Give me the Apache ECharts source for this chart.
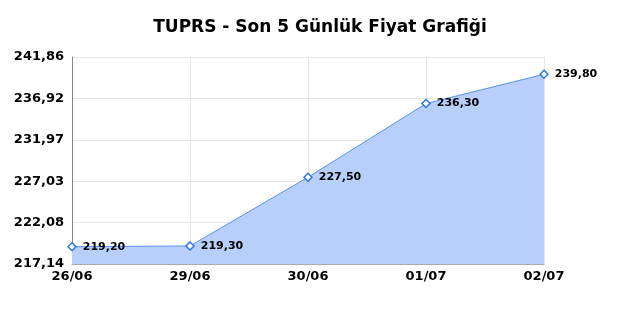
<!DOCTYPE html>
<html>
<head>
    <meta charset="utf-8">
    <title>TUPRS</title>
    <script src="https://cdn.jsdelivr.net/npm/echarts@6/dist/echarts.min.js"></script>
    <style type="text/css">
        html, body { margin: 0; padding: 0; background: #fff; }
        #chart { width: 640px; height: 320px; }
    </style>
</head>
<body>
    <div id="chart"></div>
    <script>
        var days = ['26/06', '29/06', '30/06', '01/07', '02/07'];
        var prices = [219.20, 219.30, 227.50, 236.30, 239.80];
        var yTicks = ['217,14', '222,08', '227,03', '231,97', '236,92', '241,86'];
        var yBase = 217.14;
        var yStep = 4.944;

        function fmt(v) {
            return v.toFixed(2).replace('.', ',');
        }

        // values shifted so the axis starts at 0 and ticks fall on multiples of the step
        var shifted = [];
        for (var i = 0; i < prices.length; i++) {
            shifted.push({ value: +(prices[i] - yBase).toFixed(4), raw: prices[i] });
        }

        var chart = echarts.init(document.getElementById('chart'));
        chart.setOption({
            animation: false,
            textStyle: { fontFamily: 'DejaVu Sans' },
            title: {
                text: 'TUPRS - Son 5 Günlük Fiyat Grafiği',
                left: 'center',
                top: 14,
                textStyle: { fontSize: 17, fontWeight: 'bold', color: '#000', fontFamily: 'DejaVu Sans' }
            },
            grid: { left: 72, right: 96, top: 57, bottom: 56 },
            xAxis: {
                type: 'category',
                data: days,
                boundaryGap: false,
                axisLine: { show: true, lineStyle: { color: '#aaa' } },
                axisTick: { show: false },
                axisLabel: { color: '#000', fontWeight: 'bold', fontSize: 13, margin: 6 },
                splitLine: { show: true, lineStyle: { color: '#e6e6e6' } }
            },
            yAxis: {
                type: 'value',
                min: 0,
                max: yStep * 5,
                interval: yStep,
                axisLine: { show: true, lineStyle: { color: '#888' } },
                axisTick: { show: false },
                axisLabel: {
                    color: '#000',
                    fontWeight: 'bold',
                    fontSize: 13,
                    margin: 8,
                    formatter: function (v) {
                        var idx = Math.round(v / yStep);
                        return yTicks[idx] !== undefined ? yTicks[idx] : fmt(v + yBase);
                    }
                },
                splitLine: { show: true, lineStyle: { color: '#e6e6e6' } }
            },
            series: [{
                type: 'line',
                data: shifted,
                symbol: 'diamond',
                symbolSize: 8,
                showAllSymbol: true,
                itemStyle: { color: '#fff', borderColor: '#2f74e8', borderWidth: 1.5 },
                lineStyle: { color: '#5b91ee', width: 1 },
                areaStyle: { color: '#b7cffa', opacity: 1 },
                label: {
                    show: true,
                    position: 'right',
                    distance: 6,
                    color: '#000',
                    fontWeight: 'bold',
                    fontSize: 11,
                    formatter: function (p) { return fmt(p.data.raw); }
                }
            }]
        });
    </script>
</body>
</html>
